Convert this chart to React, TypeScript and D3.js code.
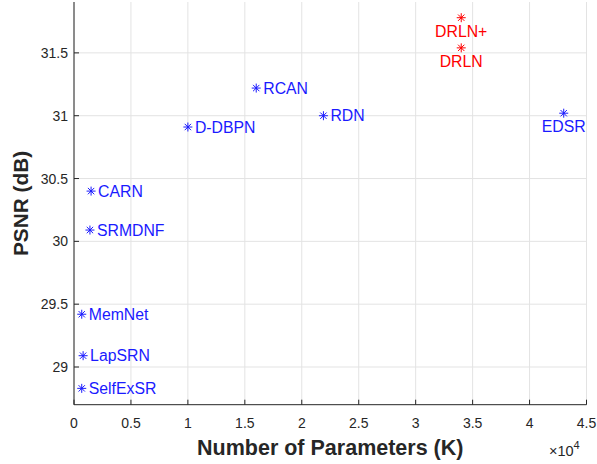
import React from "react";
import * as d3 from "d3";

// model names, params (x1e4 K) and PSNR (dB)
const names = ["DRLN+", "DRLN", "RCAN", "D-DBPN", "RDN", "EDSR", "CARN", "SRMDNF", "MemNet", "LapSRN", "SelfExSR"];
const params = [3.4, 3.4, 1.6, 1.0, 2.19, 4.3, 0.15, 0.14, 0.068, 0.08, 0.068];
const psnr = [31.78, 31.54, 31.22, 30.91, 31.0, 31.02, 30.4, 30.09, 29.42, 29.09, 28.83];
const isOurs = [true, true, false, false, false, false, false, false, false, false, false];
const labelBelow = [true, true, false, false, false, true, false, false, false, false, false];

const xTicks = [0, 0.5, 1, 1.5, 2, 2.5, 3, 3.5, 4, 4.5];
const yTicks = [29, 29.5, 30, 30.5, 31, 31.5];

const W = 597;
const H = 464;
const margin = { left: 74, right: 10.5, top: 2, bottom: 59.3 };

export default function App() {
  const x = d3.scaleLinear().domain([0, 4.5]).range([margin.left, W - margin.right]);
  const y = d3.scaleLinear().domain([28.7, 31.905]).range([H - margin.bottom, margin.top]);
  const font = "'Liberation Sans', Arial, Helvetica, sans-serif";
  const axisColor = "#262626";
  const x0 = x(0), x1 = x(4.5), y0 = y(28.7), y1 = y(31.905);

  const star = (cx: number, cy: number, color: string, key: number) => {
    const r = 4.5;
    const d = r * 0.707;
    return (
      <g key={"m" + key} stroke={color} strokeWidth={1}>
        <line x1={cx - r} y1={cy} x2={cx + r} y2={cy} />
        <line x1={cx} y1={cy - r} x2={cx} y2={cy + r} />
        <line x1={cx - d} y1={cy - d} x2={cx + d} y2={cy + d} />
        <line x1={cx - d} y1={cy + d} x2={cx + d} y2={cy - d} />
      </g>
    );
  };

  return (
    <svg width={W} height={H} style={{ position: "absolute", left: 0, top: 0, background: "#fff" }} fontFamily={font}>
      {/* grid */}
      {xTicks.map((t) => (
        <line key={"gx" + t} x1={x(t)} x2={x(t)} y1={y0} y2={y1} stroke="#e3e3e3" strokeWidth={1} />
      ))}
      {yTicks.map((t) => (
        <line key={"gy" + t} x1={x0} x2={x1} y1={y(t)} y2={y(t)} stroke="#e3e3e3" strokeWidth={1} />
      ))}
      {/* axes */}
      <line x1={x0} x2={x1} y1={y0} y2={y0} stroke={axisColor} strokeWidth={1} />
      <line x1={x0} x2={x0} y1={y0} y2={y1} stroke={axisColor} strokeWidth={1} />
      {xTicks.map((t) => (
        <g key={"tx" + t}>
          <line x1={x(t)} x2={x(t)} y1={y0} y2={y0 - 5} stroke={axisColor} />
          <text x={x(t)} y={y0 + 23} textAnchor="middle" fontSize={14} fill={axisColor}>
            {t}
          </text>
        </g>
      ))}
      {yTicks.map((t) => (
        <g key={"ty" + t}>
          <line x1={x0} x2={x0 + 5} y1={y(t)} y2={y(t)} stroke={axisColor} />
          <text x={x0 - 6} y={y(t) + 5} textAnchor="end" fontSize={14} fill={axisColor}>
            {t}
          </text>
        </g>
      ))}
      {/* points and labels */}
      {names.map((n, i) => {
        const cx = x(params[i]);
        const cy = y(psnr[i]);
        const color = isOurs[i] ? "#ff0000" : "#1a1aff";
        return (
          <g key={n}>
            {star(cx, cy, color, i)}
            {labelBelow[i] ? (
              <text x={cx} y={cy + 19} textAnchor="middle" fontSize={15.8} fill={color}>
                {n}
              </text>
            ) : (
              <text x={cx + 7} y={cy + 5.5} textAnchor="start" fontSize={15.8} fill={color}>
                {n}
              </text>
            )}
          </g>
        );
      })}
      {/* titles */}
      <text x={(x0 + x1) / 2} y={455} textAnchor="middle" fontSize={21.5} fontWeight="bold" fill={axisColor}>
        Number of Parameters (K)
      </text>
      <text
        transform={`translate(28,203.5) rotate(-90)`}
        textAnchor="middle"
        fontSize={20.8}
        fontWeight="bold"
        fill={axisColor}
      >
        PSNR (dB)
      </text>
      <text x={549} y={456} fontSize={14.5} fill={axisColor}>
        ×10
        <tspan dy={-7} fontSize={11}>
          4
        </tspan>
      </text>
    </svg>
  );
}
